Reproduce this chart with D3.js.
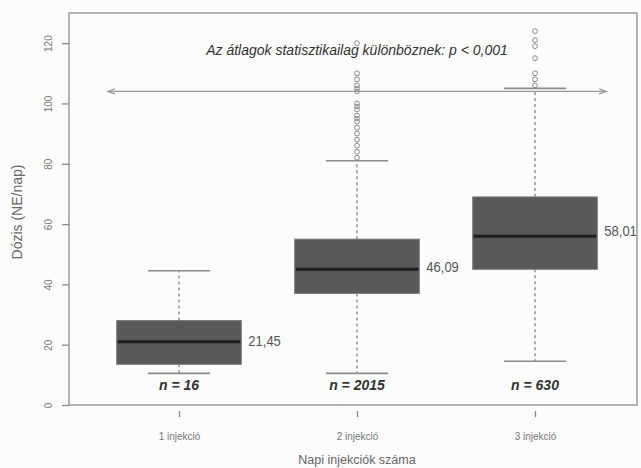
<!DOCTYPE html>
<html>
<head>
<meta charset="utf-8">
<script src="https://cdn.jsdelivr.net/npm/d3@7"></script>
<style>
  html, body { margin: 0; padding: 0; background: #fcfcfc; }
  svg { display: block; font-family: "Liberation Sans", Arial, sans-serif; }
</style>
</head>
<body>
<svg id="chart" width="641" height="468"></svg>
<script>
// ---- data ----
const categories = ["1 injekció", "2 injekció", "3 injekció"];
const whiskerLow = [10.5, 10.5, 14.5];
const q1 = [13.5, 37, 45];
const medians = [21, 45, 56];
const q3 = [28, 55, 69];
const whiskerHigh = [44.5, 81, 105];
const means = [21.45, 46.09, 58.01];
const meanLabels = ["21,45", "46,09", "58,01"];
const counts = ["n = 16", "n = 2015", "n = 630"];
const outliers1 = [];
const outliers2 = [82, 84, 86, 88, 90, 92, 94, 95, 96, 98, 99, 100, 104, 105, 106, 108, 110, 120];
const outliers3 = [106, 108, 110, 115, 119, 121, 124];
const yTicks = [0, 20, 40, 60, 80, 100, 120];
const titleText = "Az átlagok statisztikailag különböznek: p < 0,001";
const arrowSpan = [0.6, 3.4];
const arrowLevel = 104;
const xTitle = "Napi injekciók száma";
const yTitle = "Dózis (NE/nap)";

const outliers = [outliers1, outliers2, outliers3];

// ---- layout ----
const svg = d3.select("#chart");
const pLeft = 69, pRight = 637, pTop = 13, pBottom = 405;
const x = d3.scaleLinear().domain([0.382, 3.573]).range([pLeft, pRight]);
const y = d3.scaleLinear().domain([0, 130]).range([pBottom, pTop]);
const boxHalf = 0.35, capHalf = 0.175;

const grey = "#8c8c8c";

// frame
svg.append("rect")
  .attr("x", pLeft).attr("y", pTop)
  .attr("width", pRight - pLeft).attr("height", pBottom - pTop)
  .attr("fill", "none").attr("stroke", "#9a9a9a").attr("stroke-width", 1.5);

// y axis
const yAxis = svg.append("g")
  .attr("transform", `translate(${pLeft},0)`)
  .call(d3.axisLeft(y).tickValues(yTicks).tickSize(7).tickFormat(d3.format("d")));
yAxis.select(".domain").remove();
yAxis.selectAll(".tick line").attr("stroke", "#8a8a8a").attr("stroke-width", 1.3);
yAxis.selectAll(".tick text")
  .attr("x", 0).attr("y", -17).attr("dy", 0)
  .attr("text-anchor", "middle")
  .attr("transform", "rotate(-90)")
  .attr("fill", "#777").attr("font-size", 10)
  .style("font-family", "\"Liberation Sans\", Arial, sans-serif");

// x axis
const xAxis = svg.append("g")
  .attr("transform", `translate(0,${pBottom + 6})`)
  .call(d3.axisBottom(x).tickValues([1, 2, 3]).tickSize(6).tickPadding(16)
    .tickFormat((d, i) => categories[i]));
xAxis.select(".domain").remove();
xAxis.selectAll(".tick line").attr("stroke", "#8a8a8a").attr("stroke-width", 1.3);
xAxis.selectAll(".tick text")
  .attr("fill", "#777").attr("font-size", 10)
  .style("font-family", "\"Liberation Sans\", Arial, sans-serif");

// axis titles
svg.append("text")
  .attr("x", x(2)).attr("y", 464)
  .attr("text-anchor", "middle")
  .attr("fill", "#666").attr("font-size", 12.5)
  .text(xTitle);
svg.append("text")
  .attr("transform", `translate(22,${y(64)}) rotate(-90)`)
  .attr("text-anchor", "middle")
  .attr("fill", "#666").attr("font-size", 14)
  .text(yTitle);

// boxes
const idx = d3.range(categories.length);
const g = svg.append("g");
idx.forEach(i => {
  const cx = x(i + 1);
  g.append("line")
    .attr("x1", cx).attr("x2", cx)
    .attr("y1", y(q3[i])).attr("y2", y(whiskerHigh[i]))
    .attr("stroke", "#777").attr("stroke-width", 1.2).attr("stroke-dasharray", "3,3");
  g.append("line")
    .attr("x1", cx).attr("x2", cx)
    .attr("y1", y(q1[i])).attr("y2", y(whiskerLow[i]))
    .attr("stroke", "#777").attr("stroke-width", 1.2).attr("stroke-dasharray", "3,3");
  [whiskerHigh[i], whiskerLow[i]].forEach(v => {
    g.append("line")
      .attr("x1", x(i + 1 - capHalf)).attr("x2", x(i + 1 + capHalf))
      .attr("y1", y(v)).attr("y2", y(v))
      .attr("stroke", grey).attr("stroke-width", 1.6);
  });
  g.append("rect")
    .attr("x", x(i + 1 - boxHalf)).attr("y", y(q3[i]))
    .attr("width", x(i + 1 + boxHalf) - x(i + 1 - boxHalf))
    .attr("height", y(q1[i]) - y(q3[i]))
    .attr("fill", "#595959").attr("stroke", "#7a7a7a").attr("stroke-width", 1);
  g.append("line")
    .attr("x1", x(i + 1 - boxHalf) + 1).attr("x2", x(i + 1 + boxHalf) - 1)
    .attr("y1", y(medians[i])).attr("y2", y(medians[i]))
    .attr("stroke", "#1e1e1e").attr("stroke-width", 3);
  g.selectAll(null).data(outliers[i]).enter().append("circle")
    .attr("cx", cx).attr("cy", d => y(d)).attr("r", 2.4)
    .attr("fill", "none").attr("stroke", "#8a8a8a").attr("stroke-width", 1);
  // mean label (condensed like the original)
  g.append("text")
    .attr("transform", `translate(${x(i + 1 + boxHalf) + 7},${y(means[i])}) scale(0.84,1)`)
    .attr("dy", "0.36em")
    .attr("fill", "#555").attr("font-size", 15.5)
    .text(meanLabels[i]);
  g.append("text")
    .attr("x", cx).attr("y", 390)
    .attr("text-anchor", "middle")
    .attr("fill", "#333").attr("font-size", 14)
    .attr("font-weight", "bold").attr("font-style", "italic")
    .text(counts[i]);
});

// arrow
const arrowY = y(arrowLevel);
const ax1 = x(arrowSpan[0]), ax2 = x(arrowSpan[1]);
svg.append("line")
  .attr("x1", ax1).attr("x2", ax2).attr("y1", arrowY).attr("y2", arrowY)
  .attr("stroke", "#9a9a9a").attr("stroke-width", 1.3);
[[ax1, 1], [ax2, -1]].forEach(([px, dir]) => {
  svg.append("path")
    .attr("d", `M${px + dir * 7},${arrowY - 2.5} L${px},${arrowY} L${px + dir * 7},${arrowY + 2.5}`)
    .attr("fill", "none").attr("stroke", "#9a9a9a").attr("stroke-width", 1.2);
});

// title
svg.append("text")
  .attr("x", x(2)).attr("y", 55)
  .attr("text-anchor", "middle")
  .attr("fill", "#333").attr("font-size", 14)
  .attr("font-style", "italic")
  .text(titleText);
</script>
</body>
</html>
